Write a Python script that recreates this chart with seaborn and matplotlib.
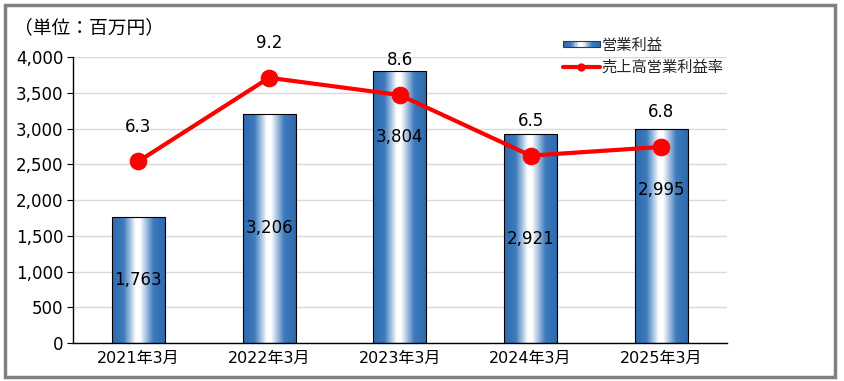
import numpy as np
import pandas as pd
import seaborn as sns
import matplotlib.pyplot as plt
from matplotlib.colors import LinearSegmentedColormap
from matplotlib.patches import Rectangle
from matplotlib.lines import Line2D
from matplotlib.legend_handler import HandlerBase

years = ['2021年3月', '2022年3月', '2023年3月', '2024年3月', '2025年3月']
profit = [1763, 3206, 3804, 2921, 2995]
margin = [6.3, 9.2, 8.6, 6.5, 6.8]
yticks = [0, 500, 1000, 1500, 2000, 2500, 3000, 3500, 4000]

sns.set_theme(style='white')
plt.rcParams['font.family'] = ['DejaVu Sans', 'Noto Sans CJK JP']

grad = LinearSegmentedColormap.from_list(
    'bar', [(0, '#2D6AAE'), (0.22, '#3E7BBD'), (0.45, '#FFFFFF'),
            (0.53, '#FFFFFF'), (0.78, '#3E7BBD'), (1, '#2D6AAE')])

df = pd.DataFrame({'year': years, 'profit': profit, 'margin': margin})

fig = plt.figure(figsize=(8.44, 3.81), dpi=100)
ax = fig.add_axes([0.0865, 0.0997, 0.7745, 0.7507])

sns.barplot(data=df, x='year', y='profit', ax=ax, width=0.405,
            color='#2D6AAE', edgecolor='black', linewidth=0.8, zorder=3)

# gradient fill inside each bar
g = np.linspace(0, 1, 256).reshape(1, -1)
for p in ax.patches:
    x0, y0 = p.get_x(), p.get_y()
    w, h = p.get_width(), p.get_height()
    im = ax.imshow(g, cmap=grad, extent=[x0, x0 + w, y0, y0 + h],
                   aspect='auto', zorder=2.5, interpolation='bilinear')
    im.set_clip_path(p)
    p.set_facecolor('none')

ax.set_xlim(-0.5, 4.5)
ax.set_ylim(0, 4000)
ax.set_yticks(yticks)
ax.set_yticklabels([f'{v:,}' for v in yticks], fontsize=12)
ax.tick_params(axis='x', labelsize=11.5, length=0, pad=6, labelcolor='black')
ax.tick_params(axis='y', length=4, width=0.8, color='black', pad=3, left=True,
               labelcolor='black')
ax.set_xlabel('')
ax.set_ylabel('')
ax.yaxis.grid(True, color='#D9D9D9', linewidth=1)
ax.set_axisbelow(True)
for s in ['top', 'right']:
    ax.spines[s].set_visible(False)
for s in ['left', 'bottom']:
    ax.spines[s].set_color('black')
    ax.spines[s].set_linewidth(1)

# value labels in bars (moved up where the line would cross)
label_pos = {2: 2880, 4: 2140}
for i, v in enumerate(profit):
    ax.text(i, label_pos.get(i, v / 2), f'{v:,}', ha='center', va='center',
            fontsize=12, color='black', zorder=4)

ax2 = ax.twinx()
sns.lineplot(x=np.arange(len(margin)), y=margin, ax=ax2, color='#FF0000',
             linewidth=3, marker='o', markersize=12, markeredgecolor='#FF0000')
ax2.set_ylim(0, 9.92)
ax2.set_yticks([])
ax2.set_xlim(-0.5, 4.5)
for s in ax2.spines.values():
    s.set_visible(False)
for i, v in enumerate(margin):
    ax2.annotate(f'{v}', (i, v), xytext=(0, 25), textcoords='offset points',
                 ha='center', va='center', fontsize=12, color='black')

fig.text(0.016, 0.928, '（単位：百万円）', fontsize=13.5, color='black',
         va='center', family=['Noto Sans CJK JP'])


class GradHandler(HandlerBase):
    def create_artists(self, legend, orig, xd, yd, width, height, fontsize, trans):
        arts = []
        n = 24
        hh = height * 0.6
        y0 = yd + (height - hh) / 2
        for k in range(n):
            r = Rectangle((xd + width * k / n, y0), width / n + 0.3, hh,
                          facecolor=grad((k + 0.5) / n), edgecolor='none',
                          transform=trans)
            arts.append(r)
        arts.append(Rectangle((xd, y0), width, hh, facecolor='none',
                              edgecolor='#1F3F66', linewidth=0.8, transform=trans))
        return arts


bar_handle = Rectangle((0, 0), 1, 1)
line_handle = Line2D([], [], color='#FF0000', linewidth=3, marker='o',
                     markersize=5)
fig.legend([bar_handle, line_handle], ['営業利益', '売上高営業利益率'],
           handler_map={Rectangle: GradHandler()},
           loc='upper left', bbox_to_anchor=(0.66, 0.92), frameon=False,
           handlelength=2.4, handletextpad=0.1,
           labelspacing=0.35, borderaxespad=0,
           prop={'family': ['Noto Sans CJK JP'], 'size': 11})

fig.patches.append(Rectangle((5 / 844, 4 / 381), 830 / 844, 372 / 381,
                             transform=fig.transFigure, fill=False,
                             edgecolor='#808080', linewidth=2.5))

fig.savefig('out.png', dpi=100)
